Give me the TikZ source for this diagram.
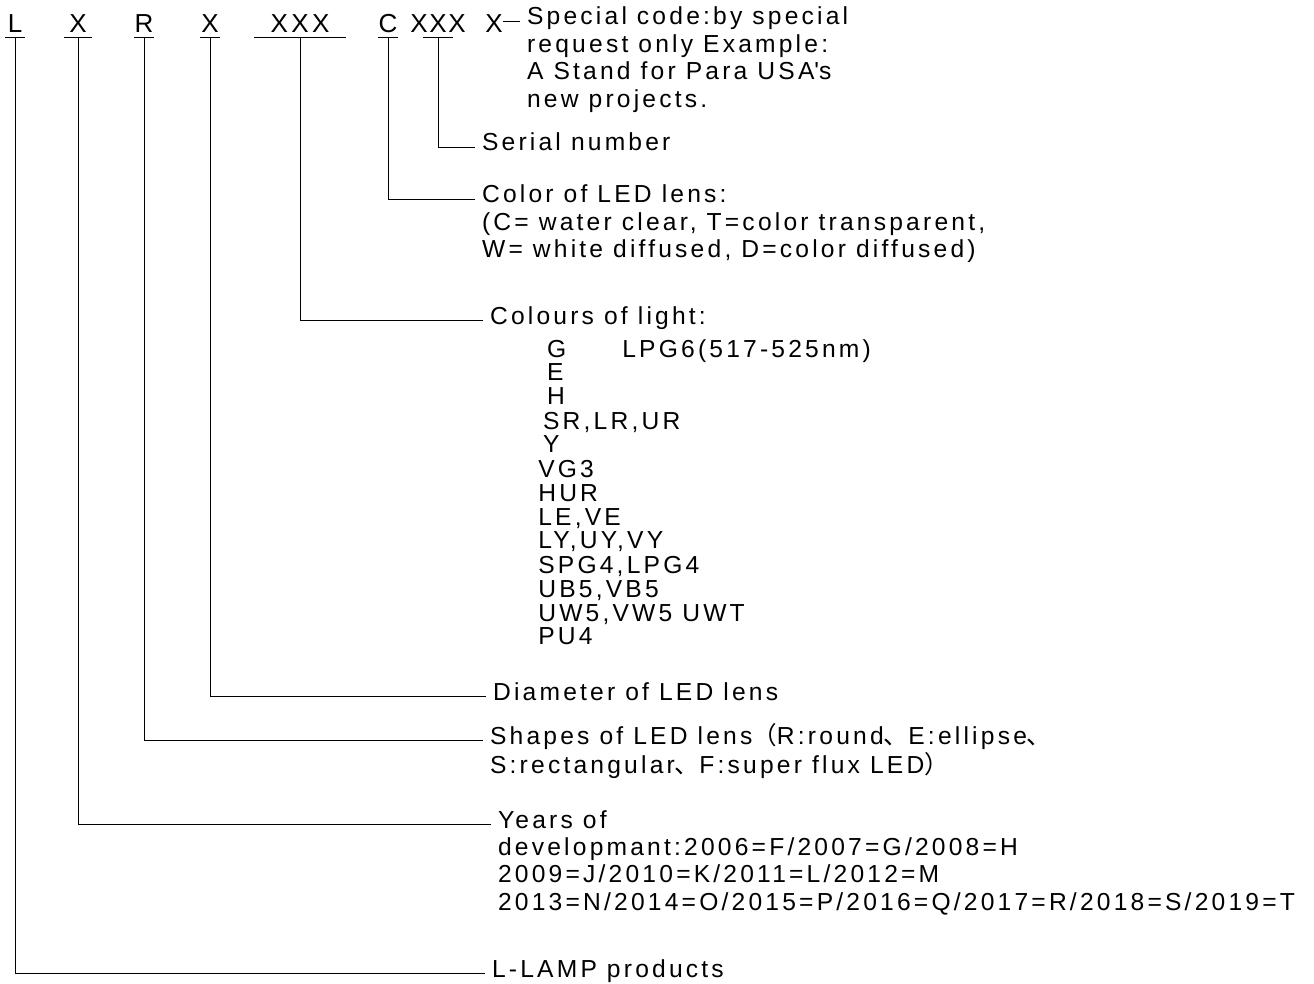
\documentclass[tikz,border=0pt]{standalone}
\usepackage{fontspec}
\usepackage{tikz}
\setmainfont{Liberation Sans}[LetterSpace=13]
\newfontfamily\cjk{Noto Sans CJK SC}
\usetikzlibrary{positioning}
\newcommand{\notesize}{\fontsize{17.5}{19.5}\selectfont}
\newcommand{\listsize}{\fontsize{17.5}{16.6}\selectfont}
\newcommand{\codesize}{\fontsize{18.5}{20}\selectfont}
% first line carries the baseline
\newcommand{\lines}[1]{\begin{tabular}[t]{@{}l@{}}#1\end{tabular}}
\tikzset{
  code/.style={font=\codesize, inner xsep=0pt, inner ysep=0.1cm,
    text depth=0pt, anchor=base, minimum width=#1},
  code/.default=0.48cm,
  note/.style={font=\notesize, anchor=base west,
    inner xsep=0.17cm, inner ysep=0pt},
  lead/.style={line width=0.6pt, color=black}
}

\begin{document}
\begin{tikzpicture}[x=0.025cm, y=-0.025cm]
    \useasboundingbox (0,0) rectangle (1314,984);

    % Code letters
    \node[code] (lamp) at (15,33) {L};
    \node[code=0.7cm] (year) at (78,33) {X};
    \node[code] (shape) at (144,33) {R};
    \node[code] (diam) at (210,33) {X};
    \node[code=2.28cm] (light) at (300,33) {XXX};
    \node[code] (lens) at (388,33) {C};
    \node[code=0pt] (sxa) at (419,33) {X};
    \node[code=0.75cm] (serno) at (438,33) {X};
    \node[code=0pt] (sxb) at (457,33) {X};
    \node[code=0pt] (spec) at (494,33) {X};

    % Underlines
    \foreach \n in {lamp, year, shape, diam, light, lens, serno}
      \draw[lead] (\n.south west) -- (\n.south east);

    % Notes
    \node[note] (specnote) at (520,25) {\lines{Special code:by special\\request only Example:\\A Stand for Para USA\textquotesingle s\\new projects.}};
    \node[note] (sernote) at (475,151) {Serial number};
    \node[note] (lensnote) at (475,203) {\lines{Color of LED lens:\\(C= water clear, T=color transparent,\\W= white diffused, D=color diffused)}};
    \node[note] (lightnote) at (483,324) {Colours of light:};
    \node[note, font=\listsize, inner xsep=0pt] (lightlist) at (538,357) {\lines{%
      \hspace*{0.22cm}\makebox[1.88cm][l]{G}LPG6(517-525nm)\\
      \hspace*{0.22cm}E\\
      \hspace*{0.22cm}H\\
      \hspace*{0.12cm}SR,LR,UR\\
      \hspace*{0.12cm}Y\\
      VG3\\HUR\\LE,VE\\LY,UY,VY\\SPG4,LPG4\\UB5,VB5\\UW5,VW5 UWT\\PU4}};
    \node[note] (diamnote) at (486,700) {Diameter of LED lens};
    \node[note] (shapenote) at (483,744) {\lines{Shapes of LED lens{\cjk （}R:round{\cjk 、}E:ellipse{\cjk 、}\\S:rectangular{\cjk 、}F:super flux LED{\cjk ）}}};
    \node[note] (yearnote) at (491,828) {\lines{Years of\\developmant:2006=F/2007=G/2008=H\\2009=J/2010=K/2011=L/2012=M\\2013=N/2014=O/2015=P/2016=Q/2017=R/2018=S/2019=T}};
    \node[note] (lampnote) at (485,977) {L-LAMP products};

    % Leaders
    \draw[lead] (spec.east |- specnote.mid west) -- (specnote.mid west);
    \draw[lead] (serno.south) |- (sernote.mid west);
    \draw[lead] (lens.south) |- (lensnote.mid west);
    \draw[lead] (light.south) |- (lightnote.mid west);
    \draw[lead] (diam.south) |- (diamnote.mid west);
    \draw[lead] (shape.south) |- (shapenote.mid west);
    \draw[lead] (year.south) |- (yearnote.mid west);
    \draw[lead] (lamp.south) |- (lampnote.mid west);
\end{tikzpicture}
\end{document}
